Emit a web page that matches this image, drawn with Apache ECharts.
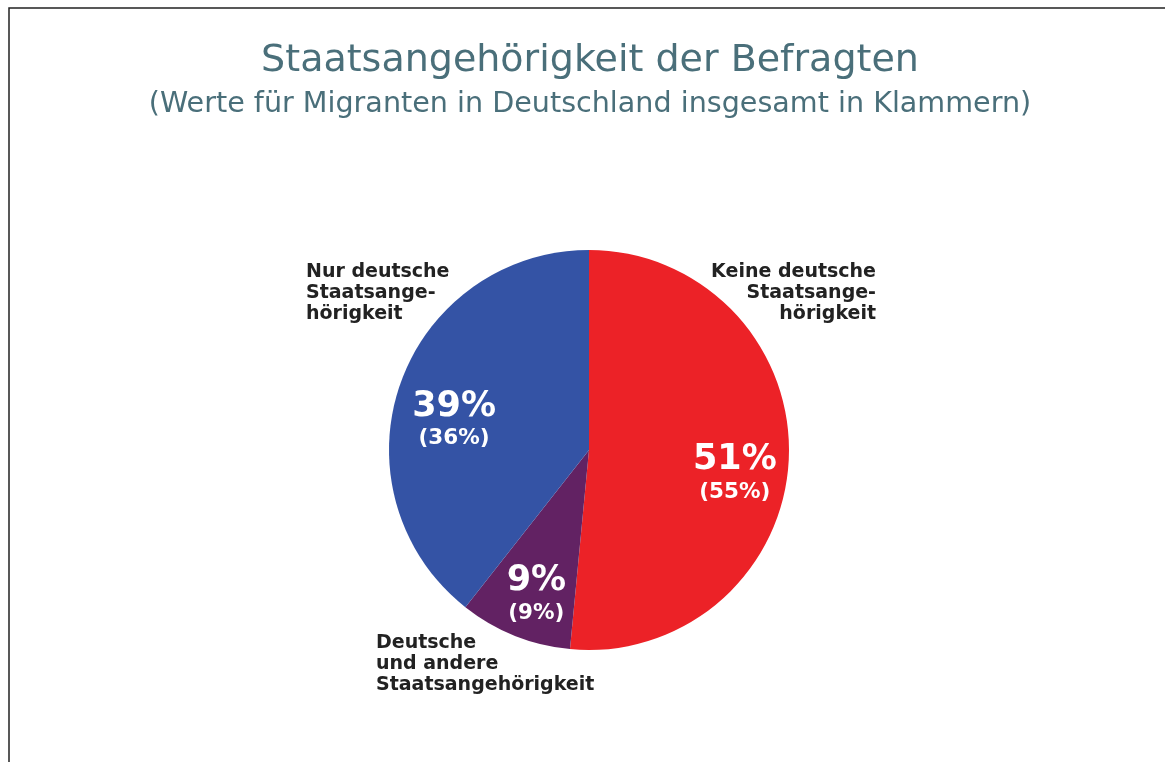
<!DOCTYPE html>
<html>
<head>
<meta charset="utf-8">
<script src="https://cdn.jsdelivr.net/npm/echarts@6/dist/echarts.min.js"></script>
<style>
  html, body { margin: 0; padding: 0; background: #fff; }
  #chart { width: 1165px; height: 762px; }
</style>
</head>
<body>
<div id="chart"></div>
<script>
// Anteile der Befragten (in Klammern: Migranten in Deutschland insgesamt)
const categories = ['Keine deutsche\nStaatsange-\nhörigkeit', 'Deutsche\nund andere\nStaatsangehörigkeit', 'Nur deutsche\nStaatsange-\nhörigkeit'];
const values = [51, 9, 39];
const valuesAll = [55, 9, 36];
const colors = ['#ec2227', '#622263', '#3453a5'];

// where the category texts sit, and how they align
const nameLayout = [
    {x: 876, y: 262, align: 'right'},
    {x: 376, y: 633, align: 'left'},
    {x: 306, y: 262, align: 'left'}
];
// small nudges of the percentage labels
const labelNudge = [[-1, 17], [2, 9], [4, 19]];

let myChart = echarts.init(document.getElementById('chart'));

let pieData = values.map((v, i) => ({
    name: categories[i],
    value: v,
    itemStyle: {color: colors[i]}
}));

let option = {
    animation: false,
    title: {
        text: 'Staatsangehörigkeit der Befragten',
        subtext: '(Werte für Migranten in Deutschland insgesamt in Klammern)',
        left: 585,
        textAlign: 'center',
        top: 37,
        itemGap: 10,
        textStyle: {
            fontFamily: 'DejaVu Sans',
            fontWeight: 'normal',
            fontSize: 38,
            color: '#4a6f7a'
        },
        subtextStyle: {
            fontFamily: 'DejaVu Sans',
            fontSize: 28.6,
            color: '#4a6f7a'
        }
    },
    graphic: [
        {
            type: 'polyline',
            silent: true,
            shape: {points: [[9, 762], [9, 8], [1165, 8]]},
            style: {stroke: '#222', lineWidth: 1.5, fill: null}
        }
    ].concat(categories.map((c, i) => ({
        type: 'text',
        silent: true,
        x: nameLayout[i].x,
        y: nameLayout[i].y,
        style: {
            text: c,
            align: nameLayout[i].align,
            verticalAlign: 'top',
            fontFamily: 'DejaVu Sans',
            fontWeight: 'bold',
            fontSize: 19,
            lineHeight: 21,
            fill: '#222'
        }
    }))),
    series: [
        {
            type: 'pie',
            center: [589, 450],
            radius: [0, 200],
            startAngle: 90,
            clockwise: true,
            silent: true,
            label: {show: false},
            labelLine: {show: false},
            itemStyle: {borderWidth: 0},
            data: pieData
        },
        {
            // label carrier only: its inside labels land at r = 144
            type: 'pie',
            center: [589, 450],
            radius: [88, 200],
            startAngle: 90,
            clockwise: true,
            silent: true,
            itemStyle: {color: 'rgba(0,0,0,0)', borderWidth: 0},
            labelLine: {show: false},
            label: {
                show: true,
                position: 'inside',
                formatter: function (p) {
                    return '{big|' + p.value + '%}\n{small|(' + valuesAll[p.dataIndex] + '%)}';
                },
                rich: {
                    big: {
                        fontFamily: 'DejaVu Sans',
                        fontWeight: 'bold',
                        fontSize: 35,
                        lineHeight: 36,
                        color: '#fff'
                    },
                    small: {
                        fontFamily: 'DejaVu Sans',
                        fontWeight: 'bold',
                        fontSize: 21.5,
                        lineHeight: 29,
                        color: '#fff'
                    }
                }
            },
            data: values.map((v, i) => ({
                name: categories[i],
                value: v,
                label: {offset: labelNudge[i]}
            }))
        }
    ]
};
if (option && typeof option === "object") {
    myChart.setOption(option, true);
}
</script>
</body>
</html>
